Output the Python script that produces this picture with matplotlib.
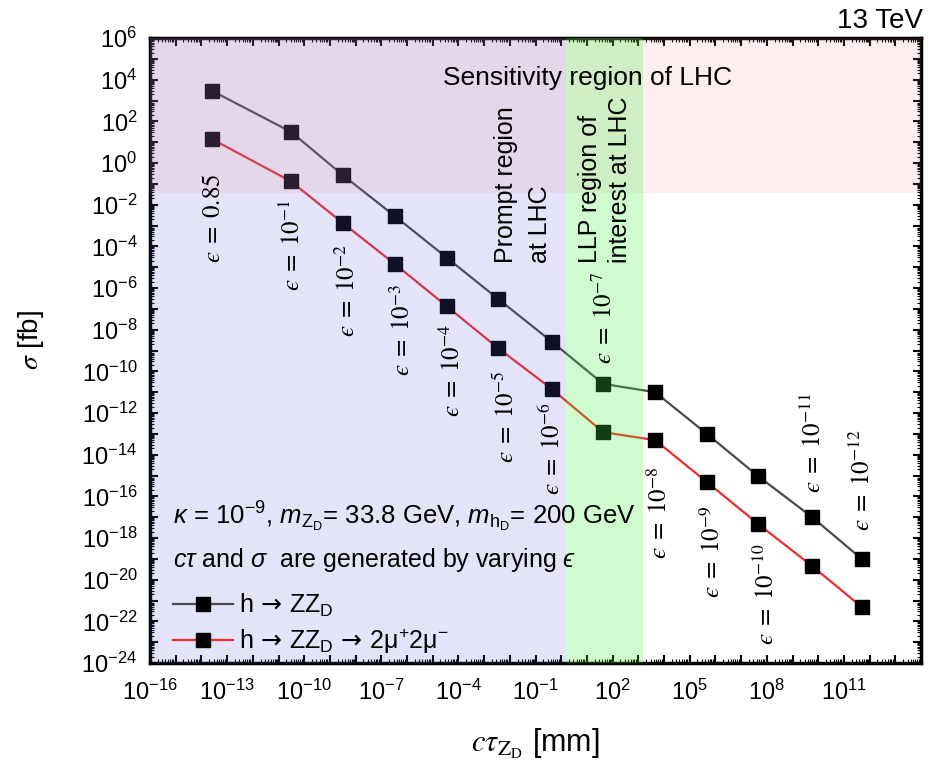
import numpy as np
import matplotlib
matplotlib.use('Agg')
import matplotlib.pyplot as plt
from matplotlib import ticker

plt.rcParams['font.family'] = ['Liberation Sans', 'DejaVu Sans']
plt.rcParams['mathtext.fontset'] = 'custom'
plt.rcParams['mathtext.rm'] = 'Liberation Sans'
plt.rcParams['mathtext.it'] = 'Liberation Sans:italic'
plt.rcParams['mathtext.bf'] = 'Liberation Sans:bold'
plt.rcParams['mathtext.sf'] = 'DejaVu Sans'

EPS = '\u03f5'
ARROW = r'$\!\mathsf{\rightarrow}\!$'

# kinetic mixing values of the scan
EPS_LABELS = ['0.85', '10^{-1}', '10^{-2}', '10^{-3}', '10^{-4}', '10^{-5}', '10^{-6}',
              '10^{-7}', '10^{-8}', '10^{-9}', '10^{-10}', '10^{-11}', '10^{-12}']

# c*tau [mm] and cross sections [fb]
CTAU = [2.6e-14, 3.1e-11, 3.2e-9, 3.4e-7, 3.6e-5, 3.5e-3, 0.44,
        43, 4.5e3, 4.7e5, 4.6e7, 5.8e9, 5.0e11]
SIGMA_ZZD = [2.9e3, 31, 0.26, 2.8e-3, 2.8e-5, 3.0e-7, 2.6e-9,
             2.5e-11, 1.0e-11, 9.8e-14, 9.3e-16, 1.0e-17, 9.8e-20]
SIGMA_4MU = [14, 0.13, 1.3e-3, 1.4e-5, 1.3e-7, 1.3e-9, 1.4e-11,
             1.2e-13, 5.0e-14, 4.8e-16, 4.7e-18, 4.5e-20, 4.8e-22]

# label placement (log10 x, log10 y)
EPS_POS = [(-13.55, -2.64), (-10.47, -3.94), (-8.33, -6.10), (-6.19, -8.02),
           (-4.25, -9.94), (-2.15, -12.19), (-0.36, -13.68), (1.67, -7.44),
           (3.81, -16.76), (5.87, -18.63), (7.97, -20.69), (9.80, -13.44),
           (11.70, -15.22)]

XMIN, XMAX = 1e-16, 1e14
YMIN, YMAX = 1e-24, 1e6
LLP_LO, LLP_HI = 10**0.19, 10**3.18
SENS_LO = 10**-1.44

fig = plt.figure(figsize=(9.3, 7.69), dpi=100)
ax = fig.add_axes([150/930, 1 - 663/769, 771/930, 625/769])

ax.plot(CTAU, SIGMA_ZZD, color='#4a4a4a', lw=1.6, marker='s', ms=10.5,
        mfc='black', mec='black', label='h ' + ARROW + r' ZZ$_\mathrm{D}$', zorder=2)
ax.plot(CTAU, SIGMA_4MU, color='#ee2c2c', lw=1.6, marker='s', ms=10.5,
        mfc='black', mec='black',
        label='h ' + ARROW + r' ZZ$_\mathrm{D}$ ' + ARROW + ' 2\u03bc$^{+}$2\u03bc$^{-}$', zorder=2)

# shaded regions, drawn on top like the original
ax.axvspan(XMIN, LLP_LO, color='#6060e0', alpha=0.17, lw=0, zorder=3)
ax.axhspan(SENS_LO, YMAX, color='#f08080', alpha=0.12, lw=0, zorder=3)
ax.axvspan(LLP_LO, LLP_HI, color='#40f040', alpha=0.25, lw=0, zorder=3)

ax.set_xscale('log')
ax.set_yscale('log')
ax.set_xlim(XMIN, XMAX)
ax.set_ylim(YMIN, YMAX)

ax.set_xticks(10.0**np.arange(-16, 15))
ax.set_yticks(10.0**np.arange(-24, 7))
ax.xaxis.set_major_formatter(ticker.FuncFormatter(
    lambda v, p: r'$10^{%d}$' % round(np.log10(v)) if round(np.log10(v)) % 3 == 2 and v < 1e12 else ''))
ax.yaxis.set_major_formatter(ticker.FuncFormatter(
    lambda v, p: r'$10^{%d}$' % round(np.log10(v)) if round(np.log10(v)) % 2 == 0 else ''))
ax.xaxis.set_minor_locator(ticker.LogLocator(base=10, subs=np.arange(2, 10), numticks=100))
ax.yaxis.set_minor_locator(ticker.LogLocator(base=10, subs=np.arange(2, 10), numticks=100))
ax.xaxis.set_minor_formatter(ticker.NullFormatter())
ax.yaxis.set_minor_formatter(ticker.NullFormatter())
ax.tick_params(which='both', direction='in', top=True, right=True, labelsize=17)
ax.tick_params(which='major', length=6, width=1.5)
ax.tick_params(which='minor', length=3, width=0.8)
ax.tick_params(axis='x', pad=12)
ax.tick_params(axis='y', pad=9)
for s in ax.spines.values():
    s.set_linewidth(2.5)

ax.set_xlabel(r'$c\tau_{\mathrm{Z_D}}$ [mm]', fontsize=22, math_fontfamily='stix', labelpad=16)
ax.set_ylabel(r'$\sigma$ [fb]', fontsize=20, math_fontfamily='stix')
ax.yaxis.set_label_coords(-0.135, 0.517)

for lab, (lx, ly) in zip(EPS_LABELS, EPS_POS):
    ax.text(10**lx, 10**ly, r'$%s\;=\;%s$' % (EPS, lab), rotation=90, ha='center', va='center',
            fontsize=18, math_fontfamily='stix', zorder=5)

ax.text(10**-4.60, 10**3.74, 'Sensitivity region of LHC', fontsize=19, zorder=5)
ax.text(10**-1.49, 10**-4.80, 'Prompt region\nat LHC', rotation=90, ha='center', va='bottom',
        multialignment='left', linespacing=1.5, fontsize=18, zorder=5)
ax.text(10**1.70, 10**-4.80, 'LLP region of\ninterest at LHC', rotation=90, ha='center',
        va='bottom', multialignment='left', linespacing=1.3, fontsize=18, zorder=5)

fig.text(0.993, 1 - 28/769, '13 TeV', ha='right', va='baseline', fontsize=20)

ax.text(0.03, 0.221, r'$\kappa$ = 10$^{-9}$, $m_{\mathrm{Z_D}}$= 33.8 GeV, $m_{\mathrm{h_D}}$= 200 GeV',
        transform=ax.transAxes, fontsize=18.5, zorder=5)
ax.text(0.03, 0.1536, r'$c\tau$ and $\sigma$  are generated by varying $%s$' % EPS,
        transform=ax.transAxes, fontsize=18, zorder=5)
ax.legend(loc='lower left', bbox_to_anchor=(0.03, 0.012), frameon=False, fontsize=18,
          handlelength=2.4, handletextpad=0.25, labelspacing=0.3, borderpad=0,
          borderaxespad=0)

fig.savefig('out.png', dpi=100)
